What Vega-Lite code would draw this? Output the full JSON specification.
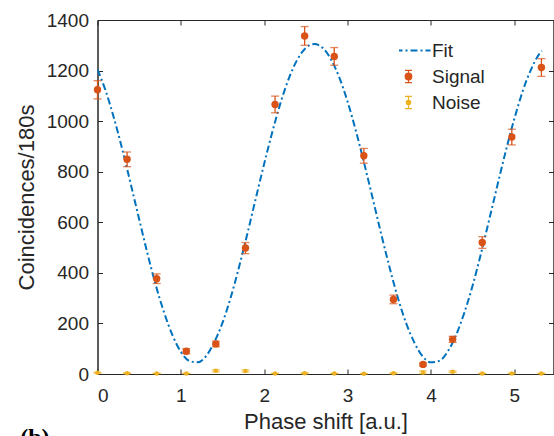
{
  "$schema": "https://vega.github.io/schema/vega-lite/v6.json",
  "width": 456,
  "height": 354,
  "autosize": "none",
  "padding": {"left": 97.5, "top": 20, "right": 0.5, "bottom": 62},
  "background": "white",
  "config": {
    "font": "Liberation Sans",
    "view": {"stroke": "#262626", "strokeWidth": 1},
    "axis": {
      "domainColor": "#262626",
      "tickColor": "#262626",
      "labelColor": "#262626",
      "titleColor": "#262626",
      "titleFontWeight": "normal",
      "grid": false,
      "labelFontSize": 19,
      "titleFontSize": 22,
      "tickSize": -5,
      "format": "d"
    }
  },
  "title": {"text": "(b)", "orient": "bottom", "anchor": "start", "dx": 5, "offset": -6, "baseline": "top", "font": "Liberation Serif", "fontWeight": "bold", "fontSize": 24, "color": "#000000"},
  "datasets": {
    "fit": [
      {"x": 0.0, "y": 1204}, {"x": 0.1, "y": 1118}, {"x": 0.2, "y": 1009}, {"x": 0.3, "y": 885},
      {"x": 0.4, "y": 750}, {"x": 0.5, "y": 612}, {"x": 0.6, "y": 476}, {"x": 0.7, "y": 350},
      {"x": 0.8, "y": 242}, {"x": 0.9, "y": 153}, {"x": 1.0, "y": 88}, {"x": 1.1, "y": 52},
      {"x": 1.2, "y": 46}, {"x": 1.3, "y": 70}, {"x": 1.4, "y": 125}, {"x": 1.5, "y": 203},
      {"x": 1.6, "y": 305}, {"x": 1.7, "y": 426}, {"x": 1.8, "y": 558}, {"x": 1.9, "y": 696},
      {"x": 2.0, "y": 832}, {"x": 2.1, "y": 961}, {"x": 2.2, "y": 1077}, {"x": 2.3, "y": 1173},
      {"x": 2.4, "y": 1245}, {"x": 2.5, "y": 1290}, {"x": 2.6, "y": 1305}, {"x": 2.7, "y": 1290},
      {"x": 2.8, "y": 1245}, {"x": 2.9, "y": 1173}, {"x": 3.0, "y": 1077}, {"x": 3.1, "y": 961},
      {"x": 3.2, "y": 832}, {"x": 3.3, "y": 696}, {"x": 3.4, "y": 558}, {"x": 3.5, "y": 426},
      {"x": 3.6, "y": 305}, {"x": 3.7, "y": 203}, {"x": 3.8, "y": 125}, {"x": 3.9, "y": 70},
      {"x": 4.0, "y": 46}, {"x": 4.1, "y": 52}, {"x": 4.2, "y": 88}, {"x": 4.3, "y": 153},
      {"x": 4.4, "y": 242}, {"x": 4.5, "y": 350}, {"x": 4.6, "y": 476}, {"x": 4.7, "y": 612},
      {"x": 4.8, "y": 750}, {"x": 4.9, "y": 885}, {"x": 5.0, "y": 1009}, {"x": 5.1, "y": 1118},
      {"x": 5.2, "y": 1204}, {"x": 5.3, "y": 1266}, {"x": 5.33, "y": 1278}
    ],
    "pts": [
      {"series": "Signal", "x": 0.0, "y": 1124, "lo": 1088, "hi": 1160},
      {"series": "Signal", "x": 0.355, "y": 849, "lo": 820, "hi": 878},
      {"series": "Signal", "x": 0.71, "y": 377, "lo": 358, "hi": 396},
      {"series": "Signal", "x": 1.065, "y": 90, "lo": 80, "hi": 100},
      {"series": "Signal", "x": 1.42, "y": 119, "lo": 108, "hi": 130},
      {"series": "Signal", "x": 1.775, "y": 498, "lo": 476, "hi": 520},
      {"series": "Signal", "x": 2.13, "y": 1066, "lo": 1033, "hi": 1099},
      {"series": "Signal", "x": 2.485, "y": 1337, "lo": 1300, "hi": 1374},
      {"series": "Signal", "x": 2.84, "y": 1256, "lo": 1221, "hi": 1291},
      {"series": "Signal", "x": 3.195, "y": 863, "lo": 834, "hi": 892},
      {"series": "Signal", "x": 3.55, "y": 295, "lo": 278, "hi": 312},
      {"series": "Signal", "x": 3.905, "y": 38, "lo": 32, "hi": 44},
      {"series": "Signal", "x": 4.26, "y": 137, "lo": 125, "hi": 149},
      {"series": "Signal", "x": 4.615, "y": 520, "lo": 497, "hi": 543},
      {"series": "Signal", "x": 4.97, "y": 937, "lo": 906, "hi": 968},
      {"series": "Signal", "x": 5.325, "y": 1212, "lo": 1177, "hi": 1247},
      {"series": "Noise", "x": 0.0, "y": 5, "lo": 3, "hi": 7},
      {"series": "Noise", "x": 0.355, "y": 3, "lo": 1, "hi": 5},
      {"series": "Noise", "x": 0.71, "y": 2, "lo": 1, "hi": 3},
      {"series": "Noise", "x": 1.065, "y": 2, "lo": 1, "hi": 3},
      {"series": "Noise", "x": 1.42, "y": 13, "lo": 9, "hi": 17},
      {"series": "Noise", "x": 1.775, "y": 12, "lo": 8, "hi": 16},
      {"series": "Noise", "x": 2.13, "y": 2, "lo": 1, "hi": 3},
      {"series": "Noise", "x": 2.485, "y": 3, "lo": 1, "hi": 5},
      {"series": "Noise", "x": 2.84, "y": 2, "lo": 1, "hi": 3},
      {"series": "Noise", "x": 3.195, "y": 1, "lo": 0, "hi": 2},
      {"series": "Noise", "x": 3.55, "y": 3, "lo": 1, "hi": 5},
      {"series": "Noise", "x": 3.905, "y": 6, "lo": 1, "hi": 12},
      {"series": "Noise", "x": 4.26, "y": 9, "lo": 6, "hi": 12},
      {"series": "Noise", "x": 4.615, "y": 2, "lo": 1, "hi": 3},
      {"series": "Noise", "x": 4.97, "y": 2, "lo": 1, "hi": 3},
      {"series": "Noise", "x": 5.325, "y": 2, "lo": 1, "hi": 3}
    ]
  },
  "resolve": {"axis": {"x": "independent", "y": "independent"}},
  "layer": [
    {
      "data": {"name": "fit"},
      "mark": {"type": "line", "color": "#0072BD", "strokeWidth": 2, "strokeDash": [7, 3, 2, 3], "interpolate": "monotone", "clip": true},
      "encoding": {
        "x": {"field": "x", "type": "quantitative", "scale": {"domain": [0, 5.47], "nice": false, "zero": false},
              "axis": {"title": "Phase shift [a.u.]", "values": [0, 1, 2, 3, 4, 5], "labelPadding": 17, "titlePadding": 6}},
        "y": {"field": "y", "type": "quantitative", "scale": {"domain": [0, 1400], "nice": false},
              "axis": {"title": "Coincidences/180s", "values": [0, 200, 400, 600, 800, 1000, 1200, 1400], "labelPadding": 14, "titlePadding": 8}}
      }
    },
    {
      "data": {"name": "pts"},
      "mark": {"type": "rule", "strokeWidth": 1.3},
      "encoding": {
        "x": {"field": "x", "type": "quantitative", "axis": {"orient": "top", "labels": false, "title": null, "values": [0, 1, 2, 3, 4, 5]}},
        "y": {"field": "lo", "type": "quantitative", "axis": {"orient": "right", "labels": false, "title": null, "values": [0, 200, 400, 600, 800, 1000, 1200, 1400]}},
        "y2": {"field": "hi"},
        "color": {"condition": {"test": "datum.series === 'Signal'", "value": "#D95319"}, "value": "#EDB120"}
      }
    },
    {
      "data": {"name": "pts"},
      "mark": {"type": "tick", "orient": "horizontal", "size": 8, "thickness": 1.3},
      "encoding": {
        "x": {"field": "x", "type": "quantitative", "axis": null},
        "y": {"field": "lo", "type": "quantitative", "axis": null},
        "color": {"condition": {"test": "datum.series === 'Signal'", "value": "#D95319"}, "value": "#EDB120"}
      }
    },
    {
      "data": {"name": "pts"},
      "mark": {"type": "tick", "orient": "horizontal", "size": 8, "thickness": 1.3},
      "encoding": {
        "x": {"field": "x", "type": "quantitative", "axis": null},
        "y": {"field": "hi", "type": "quantitative", "axis": null},
        "color": {"condition": {"test": "datum.series === 'Signal'", "value": "#D95319"}, "value": "#EDB120"}
      }
    },
    {
      "data": {"name": "pts"},
      "mark": {"type": "point", "filled": true, "opacity": 1},
      "encoding": {
        "x": {"field": "x", "type": "quantitative", "axis": null},
        "y": {"field": "y", "type": "quantitative", "axis": null},
        "size": {"condition": {"test": "datum.series === 'Signal'", "value": 55}, "value": 20},
        "color": {"condition": {"test": "datum.series === 'Signal'", "value": "#D95319"}, "value": "#EDB120"}
      }
    },
    {
      "data": {"name": "pts"},
      "mark": {"type": "point", "filled": true, "opacity": 0, "size": 400, "strokeWidth": 1.2},
      "encoding": {
        "x": {"field": "x", "type": "quantitative", "axis": null},
        "y": {"field": "y", "type": "quantitative", "axis": null},
        "shape": {
          "field": "series", "type": "nominal",
          "scale": {"domain": ["Fit", "Signal", "Noise"], "range": [
            "M-2.8,0H-2.1M-1.8,0H-1.6M-1.3,0H-0.6M-0.3,0H-0.1M0.2,0H0.9M1.2,0H1.4M1.7,0H2.2",
            "M0,-0.62V0.62M-0.35,-0.62H0.35M-0.35,0.62H0.35M0.33,0A0.33,0.33,0,1,1,-0.33,0A0.33,0.33,0,1,1,0.33,0Z",
            "M0,-0.62V0.62M-0.35,-0.62H0.35M-0.35,0.62H0.35M0.22,0A0.22,0.22,0,1,1,-0.22,0A0.22,0.22,0,1,1,0.22,0Z"
          ]},
          "legend": null
        },
        "color": {
          "field": "series", "type": "nominal",
          "scale": {"domain": ["Fit", "Signal", "Noise"], "range": ["#0072BD", "#D95319", "#EDB120"]},
          "legend": {
            "title": null,
            "orient": "none",
            "legendX": 301.5,
            "legendY": 20.5,
            "padding": 0,
            "symbolSize": 400,
            "clipHeight": 20,
            "rowPadding": 6,
            "labelOffset": 14,
            "labelFontSize": 19,
            "labelColor": "#262626",
            "labelFont": "Liberation Sans",
            "encode": {
              "symbols": {
                "update": {
                  "shape": {"scale": "shape", "field": "value"},
                  "fill": {"signal": "datum.value === 'Fit' ? 'transparent' : datum.value === 'Signal' ? '#D95319' : '#EDB120'"},
                  "stroke": {"signal": "datum.value === 'Fit' ? '#0072BD' : datum.value === 'Signal' ? '#D95319' : '#EDB120'"},
                  "strokeWidth": {"signal": "datum.value === 'Fit' ? 2.2 : 1.2"},
                  "size": {"value": 400},
                  "opacity": {"value": 1}
                }
              }
            }
          }
        }
      }
    }
  ]
}
